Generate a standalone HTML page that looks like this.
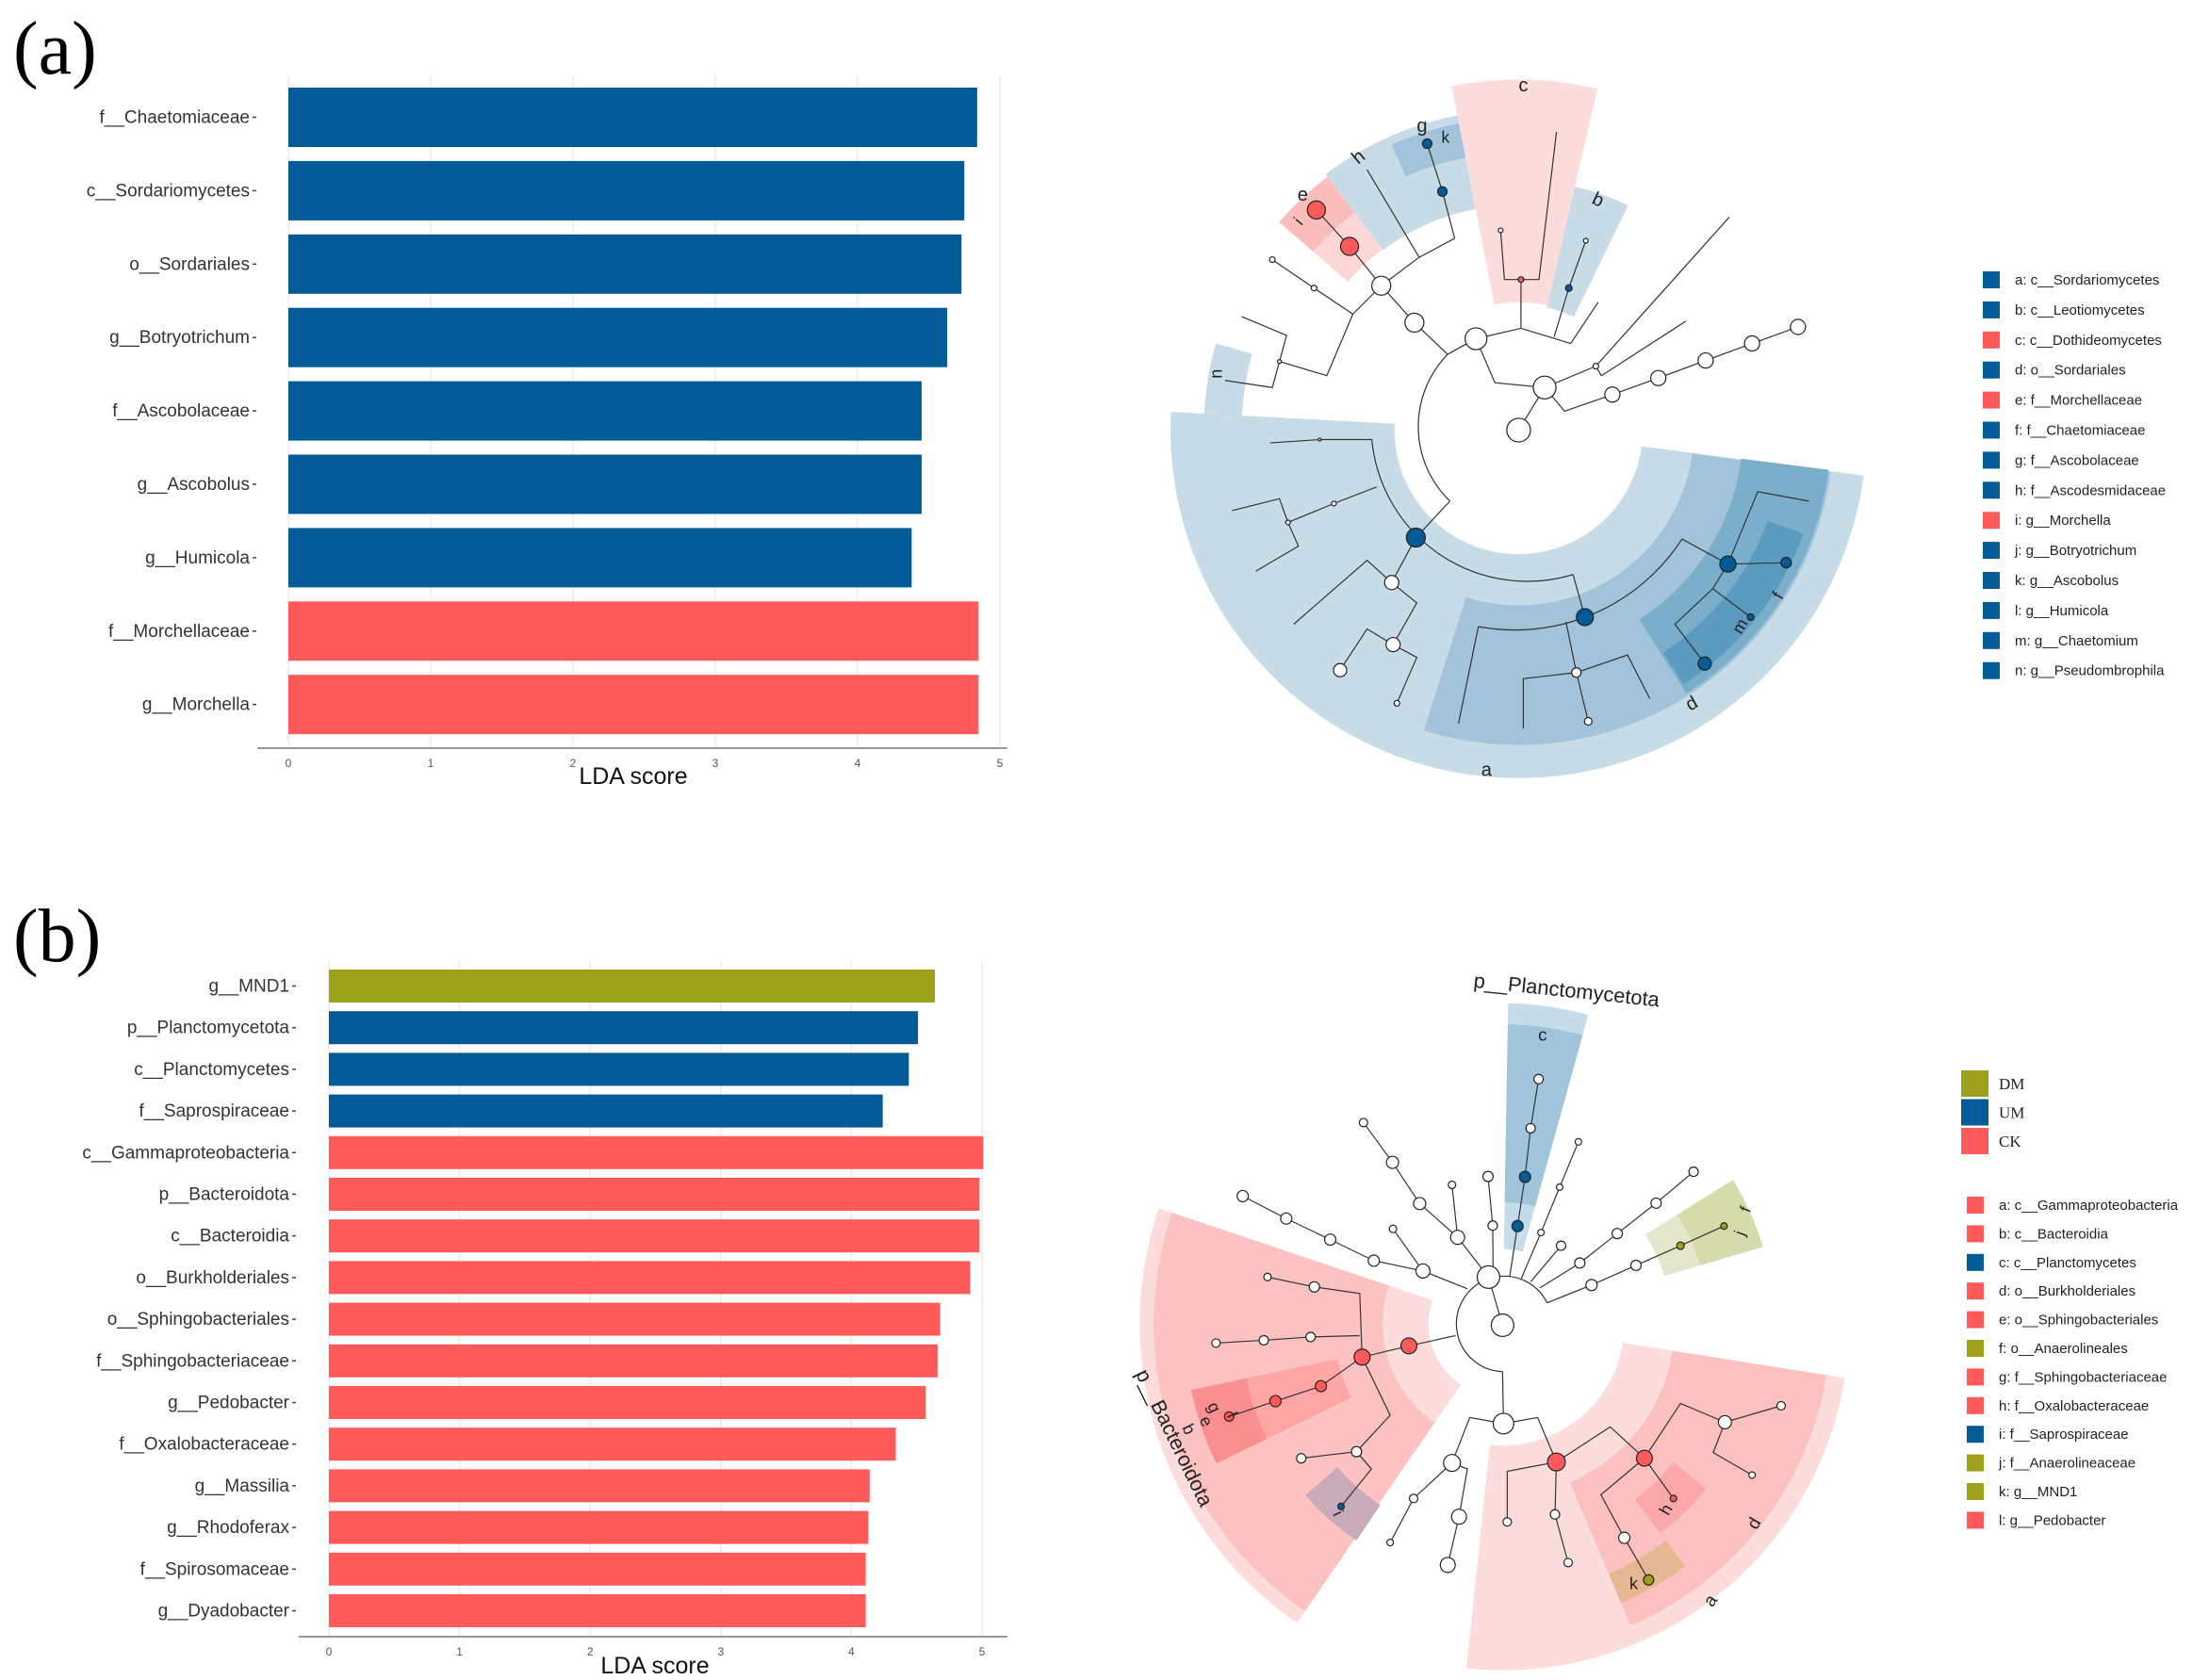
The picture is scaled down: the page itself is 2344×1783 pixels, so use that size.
<!DOCTYPE html>
<html><head><meta charset="utf-8">
<style>
html,body{margin:0;padding:0;background:#fff;}
svg{display:block;}
.lbl{font-family:"Liberation Sans Narrow","Liberation Sans",sans-serif;font-size:19px;fill:#333;}
.tick{font-family:"Liberation Sans",sans-serif;font-size:12px;fill:#555;}
.axt{font-family:"Liberation Sans",sans-serif;font-size:25px;fill:#111;}
.panel{font-family:"Liberation Serif",serif;font-size:80px;fill:#000;}
.leg{font-family:"Liberation Sans",sans-serif;font-size:15px;fill:#222;}
.legs{font-family:"Liberation Serif",serif;font-size:17px;fill:#222;}
.cl{font-family:"Liberation Sans",sans-serif;fill:#222;}
.edge{fill:none;stroke:#333;stroke-width:2.4;}
</style></head>
<body>
<svg id="root" width="2344" height="1783" viewBox="0 0 2344 1783" xmlns="http://www.w3.org/2000/svg">
<text class="panel" x="14" y="78">(a)</text>
<text class="panel" x="14" y="1020">(b)</text>
<g id="barA"></g>
<g id="barB"></g>

<!-- cladogram a -->
<g id="cladeA" transform="translate(1227,57) scale(0.5025)">
<g id="secA"></g>
<g>
<path class="edge" d="M615,635 A219,219 0 0 0 620,945"/>
<polyline class="edge" points="615,635 545,568 475,490 408,407 338,330"/>
<polyline class="edge" points="415,550 475,490 555,430 630,390 604,291 572,190"/>
<polyline class="edge" points="555,430 445,245"/>
<polyline class="edge" points="415,550 333,495 245,435"/>
<polyline class="edge" points="415,550 360,680 260,650 275,595 180,555"/>
<polyline class="edge" points="260,650 245,705 145,690"/>
<polyline class="edge" points="615,635 675,602 770,580 875,612"/>
<polyline class="edge" points="770,580 770,477 735,477 727,373"/>
<polyline class="edge" points="770,477 808,477 845,165"/>
<polyline class="edge" points="840,598 871,495 907,395"/>
<polyline class="edge" points="875,612 933,525"/>
<polyline class="edge" points="675,602 715,695 820,705 765,795"/>
<polyline class="edge" points="820,705 928,660 1210,345"/>
<polyline class="edge" points="928,660 940,680 1118,565"/>
<polyline class="edge" points="820,705 862,755 963,720 1060,685 1160,648 1258,612 1355,577"/>
<polyline class="edge" points="620,945 548,1022"/>
<path class="edge" d="M455,815 A330,330 0 0 0 880,1100"/>
<polyline class="edge" points="880,1100 905,1190"/>
<polyline class="edge" points="455,815 345,815 240,822"/>
<polyline class="edge" points="465,915 375,950 278,990 260,940 160,965"/>
<polyline class="edge" points="278,990 300,1040 210,1093"/>
<polyline class="edge" points="548,1022 497,1117 445,1070 290,1205"/>
<polyline class="edge" points="497,1117 550,1160 500,1248 445,1215 388,1302"/>
<polyline class="edge" points="500,1248 550,1275 508,1372"/>
<path class="edge" d="M1110,1025 A420,420 0 0 1 680,1210"/>
<polyline class="edge" points="680,1210 638,1415"/>
<polyline class="edge" points="865,1200 887,1307 775,1320 775,1425"/>
<polyline class="edge" points="887,1307 995,1270 1042,1362"/>
<polyline class="edge" points="887,1307 912,1410"/>
<polyline class="edge" points="1110,1025 1207,1078 1270,925 1378,945"/>
<polyline class="edge" points="1207,1078 1330,1075"/>
<polyline class="edge" points="1207,1078 1175,1130 1255,1190"/>
<polyline class="edge" points="1175,1130 1095,1205 1158,1288"/>
</g>
<g id="nodesA"></g>
<g>
<text class="cl" x="686" y="1525" style="font-size:40px">a</text>
<text class="cl" x="922" y="322" style="font-size:40px" transform="rotate(25 935 308)">b</text>
<text class="cl" x="765" y="80" style="font-size:40px">c</text>
<text class="cl" x="1118" y="1385" style="font-size:40px" transform="rotate(-30 1130 1370)">d</text>
<text class="cl" x="298" y="310" style="font-size:40px">e</text>
<text class="cl" x="1305" y="1152" style="font-size:36px" transform="rotate(-60 1315 1140)">f</text>
<text class="cl" x="550" y="165" style="font-size:40px">g</text>
<text class="cl" x="416" y="230" style="font-size:40px" transform="rotate(-40 428 218)">h</text>
<text class="cl" x="295" y="360" style="font-size:34px" transform="rotate(-50 305 350)">i</text>
<text class="cl" x="602" y="188" style="font-size:34px">k</text>
<text class="cl" x="1218" y="1222" style="font-size:36px" transform="rotate(-60 1232 1210)">m</text>
<text class="cl" x="114" y="682" style="font-size:36px" transform="rotate(-90 128 672)">n</text>
</g>
</g>

<!-- cladogram b -->
<g id="cladeB" transform="translate(1187,1025) scale(0.4968)">
<g id="secB"></g>
<g>
<path class="edge" d="M820,867 A102,102 0 1 1 915,720"/>
<polyline class="edge" points="790,665 724,580 643,508 585,420 523,335"/>
<polyline class="edge" points="745,690 650,652 545,630 452,585 358,540 265,492"/>
<polyline class="edge" points="650,652 586,562"/>
<polyline class="edge" points="724,580 712,468"/>
<polyline class="edge" points="800,664 799,555 789,450"/>
<polyline class="edge" points="835,665 852,556 868,451 880,347 897,242"/>
<polyline class="edge" points="860,668 902,570 942,473 982,376"/>
<polyline class="edge" points="880,675 945,598"/>
<polyline class="edge" points="900,688 985,635 1065,572 1148,507 1228,440"/>
<polyline class="edge" points="915,720 1010,682 1105,640 1200,598 1293,556"/>
<polyline class="edge" points="790,665 820,768"/>
<polyline class="edge" points="720,790 620,812 520,836"/>
<polyline class="edge" points="520,836 515,700 418,686 318,665"/>
<polyline class="edge" points="515,790 410,793 310,800 208,806"/>
<polyline class="edge" points="520,836 432,898 335,930 236,963"/>
<polyline class="edge" points="520,836 580,960 508,1038 390,1052"/>
<polyline class="edge" points="508,1038 540,1075 475,1155"/>
<polyline class="edge" points="820,867 822,978"/>
<polyline class="edge" points="822,978 750,965 712,1062 630,1138 580,1232"/>
<polyline class="edge" points="712,1062 745,1075 727,1177 703,1280"/>
<polyline class="edge" points="822,978 895,965 935,1060"/>
<polyline class="edge" points="935,1060 830,1080 830,1188"/>
<polyline class="edge" points="935,1060 932,1172 960,1275"/>
<polyline class="edge" points="935,1060 1050,985 1123,1052"/>
<polyline class="edge" points="1123,1052 1200,935 1295,975 1415,940"/>
<polyline class="edge" points="1295,975 1270,1040 1353,1088"/>
<polyline class="edge" points="1123,1052 1185,1138"/>
<polyline class="edge" points="1123,1052 1030,1130 1080,1222 1132,1312"/>
</g>
<g id="nodesB"></g>
<g>
<text class="cl" x="755" y="65" style="font-size:44px" transform="rotate(6 940 75)">p__Planctomycetota</text>
<text class="cl" x="30" y="880" style="font-size:44px" transform="rotate(64 40 880)">p__Bacteroidota</text>
<text class="cl" x="896" y="160" style="font-size:38px">c</text>
<text class="cl" x="1330" y="527" style="font-size:34px" transform="rotate(-70 1340 515)">f</text>
<text class="cl" x="1318" y="577" style="font-size:34px" transform="rotate(-70 1328 565)">j</text>
<text class="cl" x="1158" y="1172" style="font-size:36px" transform="rotate(-60 1170 1160)">h</text>
<text class="cl" x="1346" y="1202" style="font-size:38px" transform="rotate(-60 1358 1190)">d</text>
<text class="cl" x="1253" y="1367" style="font-size:38px" transform="rotate(-55 1265 1355)">a</text>
<text class="cl" x="1091" y="1332" style="font-size:36px">k</text>
<text class="cl" x="140" y="1002" style="font-size:36px" transform="rotate(64 150 990)">b</text>
<text class="cl" x="176" y="987" style="font-size:36px" transform="rotate(64 188 975)">e</text>
<text class="cl" x="193" y="957" style="font-size:36px" transform="rotate(64 205 945)">g</text>
<text class="cl" x="236" y="977" style="font-size:34px" transform="rotate(64 246 965)">l</text>
<text class="cl" x="462" y="1187" style="font-size:34px" transform="rotate(64 472 1175)">i</text>
</g>
</g>

<g id="legA"></g>
<g id="legB"></g>
</svg>

<script>
const NS='http://www.w3.org/2000/svg';
const BLUE='#005B96', RED='#FF5A5A', OLIVE='#9BA119';
// ---- Panel (a) data ----
const catsA=['f__Chaetomiaceae','c__Sordariomycetes','o__Sordariales','g__Botryotrichum','f__Ascobolaceae','g__Ascobolus','g__Humicola','f__Morchellaceae','g__Morchella'];
const valsA=[4.84,4.75,4.73,4.63,4.45,4.45,4.38,4.85,4.85];
const groupA=['UM','UM','UM','UM','UM','UM','UM','CK','CK'];
const ticksA=['0','1','2','3','4','5'];
// ---- Panel (b) data ----
const catsB=['g__MND1','p__Planctomycetota','c__Planctomycetes','f__Saprospiraceae','c__Gammaproteobacteria','p__Bacteroidota','c__Bacteroidia','o__Burkholderiales','o__Sphingobacteriales','f__Sphingobacteriaceae','g__Pedobacter','f__Oxalobacteraceae','g__Massilia','g__Rhodoferax','f__Spirosomaceae','g__Dyadobacter'];
const valsB=[4.64,4.51,4.44,4.24,5.01,4.98,4.98,4.91,4.68,4.66,4.57,4.34,4.14,4.13,4.11,4.11];
const groupB=['DM','UM','UM','UM','CK','CK','CK','CK','CK','CK','CK','CK','CK','CK','CK','CK'];
const ticksB=['0','1','2','3','4','5'];
const COL={UM:BLUE,CK:RED,DM:OLIVE};

function mk(tag,attrs,parent){const e=document.createElementNS(NS,tag);for(const k in attrs)e.setAttribute(k,attrs[k]);parent.appendChild(e);return e;}

function barChart(g,cats,vals,groups,ticks,cfg){
  const xs=v=>cfg.x0+v*(cfg.x5-cfg.x0)/5;
  ticks.forEach((t,i)=>{
    const gl=mk('line',{x1:xs(+t),x2:xs(+t),y1:cfg.gridTop,y2:cfg.axisY,stroke:'#ebebeb','stroke-width':1.5},g);
    
    
    const tl=mk('text',{x:xs(+t),y:cfg.axisY+20,'text-anchor':'middle',class:'tick'},g);
    tl.textContent=t;
    
    
  });
  cats.forEach((c,i)=>{
    const y=cfg.top+i*cfg.pitch;
    const r=mk('rect',{x:xs(0),y:y,width:xs(vals[i])-xs(0),height:cfg.h,fill:COL[groups[i]]},g);
    
    
    const t=mk('text',{x:cfg.labelX,y:y+cfg.h/2+6,'text-anchor':'end',class:'lbl'},g);
    t.textContent=c;
    
    
    const tk=mk('line',{x1:cfg.labelX+3,x2:cfg.labelX+7,y1:y+cfg.h/2,y2:y+cfg.h/2,stroke:'#444','stroke-width':1.5},g);
    
    
  });
  const ax=mk('line',{x1:cfg.axL,x2:cfg.axR,y1:cfg.axisY,y2:cfg.axisY,stroke:'#999','stroke-width':2},g);
  
  
  const at=mk('text',{x:cfg.titleX,y:cfg.titleY,'text-anchor':'middle',class:'axt'},g);
  at.textContent='LDA score';
  
  
}
barChart(document.getElementById('barA'),catsA,valsA,groupA,ticksA,{x0:306,x5:1061,top:93,pitch:77.9,h:63,gridTop:79,axisY:794,labelX:265,axL:273,axR:1069,titleX:672,titleY:832});
barChart(document.getElementById('barB'),catsB,valsB,groupB,ticksB,{x0:349,x5:1042,top:1029,pitch:44.2,h:35,gridTop:1020,axisY:1737,labelX:307,axL:317,axR:1069,titleX:695,titleY:1776});

// ---- cladogram sectors ----
function sector(g,cx,cy,r0,r1,a0,a1,fill,name){
  const rad=a=>a*Math.PI/180;
  const p=(r,a)=>[cx+r*Math.cos(rad(a)),cy+r*Math.sin(rad(a))];
  const large=(a1-a0)>180?1:0;
  const [x1,y1]=p(r1,a0),[x2,y2]=p(r1,a1),[x3,y3]=p(r0,a1),[x4,y4]=p(r0,a0);
  const d=`M${x1},${y1} A${r1},${r1} 0 ${large} 1 ${x2},${y2} L${x3},${y3} A${r0},${r0} 0 ${large} 0 ${x4},${y4} Z`;
  const e=mk('path',{d:d,fill:fill},g);
  
  
}
const sA=document.getElementById('secA');
sector(sA,765,795,262,735,7.5,183,'#c8dce8','clade-a-highlight');
sector(sA,765,795,370,665,7.7,107.5,'#a2c3da','clade-d-highlight');
sector(sA,765,795,474,660,7.3,57.5,'#7aaecb','clade-f-highlight');
sector(sA,765,795,560,640,20,57,'#5b9bc0','clade-l-highlight');
sector(sA,765,795,585,665,183,196,'#c8dce8','clade-n-highlight');
sector(sA,765,795,478,670,221,233,'#fdd6d6','clade-e-highlight');
sector(sA,765,795,575,670,221,233,'#fbbcbc','clade-i-highlight');
sector(sA,765,795,476,677,233,259,'#c8dce8','clade-h-highlight');
sector(sA,765,795,586,660,246,259,'#a2c3da','clade-g-highlight');
sector(sA,765,795,270,740,259,283,'#fddcdc','clade-c-highlight');
sector(sA,765,795,266,528,283,296,'#c8dce8','clade-b-highlight');

const sB=document.getElementById('secB');
sector(sB,820,765,158,775,124.5,198.6,'#fddcdc','clade-bacteroidota-highlight');
sector(sB,820,765,256,745,124.5,198.6,'#fcc2c2','clade-b-highlight');
sector(sB,820,765,360,680,154,168,'#fca6a6','clade-g-highlight');
sector(sB,820,765,560,680,154,168,'#fb8f8f','clade-l-highlight');
sector(sB,820,765,467,558,124,139,'#c9aab9','clade-i-highlight');
sector(sB,820,765,260,740,9,96,'#fddcdc','clade-a-highlight');
sector(sB,820,765,368,700,9,67,'#fcc0c0','clade-d-highlight');
sector(sB,820,765,470,560,39,53,'#fca8a8','clade-h-highlight');
sector(sB,820,765,580,648,53,67,'#e5b792','clade-k-highlight');
sector(sB,820,765,160,685,271,285.5,'#c6dce8','clade-c-highlight');
sector(sB,820,765,260,640,271,285.5,'#a0c4da','clade-c-core');
sector(sB,820,765,360,580,328,343.5,'#e4e7cb','clade-f-highlight');
sector(sB,820,765,440,580,328,343.5,'#d5dbab','clade-j-highlight');

// ---- nodes ----
function nodes(g,list){
  list.forEach(n=>{
    const c=mk('circle',{cx:n[0],cy:n[1],r:n[2],fill:n[3],stroke:'#222','stroke-width':2.4},g);
    
    
  });
}
const W='#fff';
nodes(document.getElementById('nodesA'),[
[765,795,25,W],[820,705,24,W],[675,602,23,W],[545,568,20,W],[475,490,20,W],
[338,330,19,RED],[408,407,19,RED],[770,477,6,RED],
[572,190,10,BLUE],[604,291,10,BLUE],[871,495,7,BLUE],[548,1022,20,BLUE],[905,1190,18,BLUE],[1207,1078,17,BLUE],[1330,1075,11,BLUE],[1255,1190,7,BLUE],[1158,1288,14,BLUE],
[727,373,5,W],[907,395,5,W],[245,435,6,W],[333,495,6,W],[260,650,4,W],[928,660,6,W],[963,720,16,W],[1060,685,16,W],[1160,648,16,W],[1258,612,16,W],[1355,577,16,W],
[497,1117,15,W],[500,1248,15,W],[388,1302,14,W],[887,1307,10,W],[912,1410,8,W],[508,1372,6,W],[375,950,5,W],[278,990,5,W],[345,815,3,W]
]);
nodes(document.getElementById('nodesB'),[
[790,665,24,W],[820,768,24,W],[822,978,22,W],[712,1062,18,W],[727,1177,16,W],[703,1280,16,W],[724,580,15,W],[650,652,15,W],[643,508,13,W],[585,420,13,W],[545,630,12,W],[452,585,12,W],[358,540,12,W],[265,492,12,W],[523,335,9,W],[586,562,8,W],[712,468,8,W],[789,450,11,W],[799,555,10,W],[902,570,7,W],[942,473,7,W],[982,376,7,W],[945,598,10,W],[985,635,11,W],[1010,682,12,W],[1105,640,11,W],[1065,572,11,W],[1148,507,11,W],[1228,440,10,W],[880,347,10,W],[897,242,10,W],[418,686,11,W],[318,665,8,W],[410,793,10,W],[310,800,10,W],[208,806,9,W],[508,1038,11,W],[390,1052,10,W],[630,1138,9,W],[580,1232,7,W],[932,1172,10,W],[960,1275,9,W],[830,1188,9,W],[1080,1222,12,W],[1295,975,14,W],[1415,940,9,W],[1353,1088,7,W],
[620,812,17,RED],[520,836,17,RED],[432,898,12,RED],[335,930,12,RED],[236,963,10,RED],[935,1060,19,RED],[1123,1052,17,RED],[1185,1138,7,RED],
[868,451,12,BLUE],[852,556,12,BLUE],[475,1155,7,BLUE],
[1200,598,8,OLIVE],[1293,556,7,OLIVE],[1132,1312,11,OLIVE]
]);

// ---- legends ----
const legAText=['a: c__Sordariomycetes','b: c__Leotiomycetes','c: c__Dothideomycetes','d: o__Sordariales','e: f__Morchellaceae','f: f__Chaetomiaceae','g: f__Ascobolaceae','h: f__Ascodesmidaceae','i: g__Morchella','j: g__Botryotrichum','k: g__Ascobolus','l: g__Humicola','m: g__Chaetomium','n: g__Pseudombrophila'];
const legAGroup=['UM','UM','CK','UM','CK','UM','UM','UM','CK','UM','UM','UM','UM','UM'];
const legBText=['a: c__Gammaproteobacteria','b: c__Bacteroidia','c: c__Planctomycetes','d: o__Burkholderiales','e: o__Sphingobacteriales','f: o__Anaerolineales','g: f__Sphingobacteriaceae','h: f__Oxalobacteraceae','i: f__Saprospiraceae','j: f__Anaerolineaceae','k: g__MND1','l: g__Pedobacter'];
const legBGroup=['CK','CK','UM','CK','CK','DM','CK','CK','UM','DM','DM','CK'];
const groupNames=['DM','UM','CK'];
function legend(g,texts,groups,x,y0,pitch,tx){
  texts.forEach((t,i)=>{
    const y=y0+i*pitch;
    const r=mk('rect',{x:x,y:y-9,width:18,height:18,fill:COL[groups[i]]},g);
    
    
    const te=mk('text',{x:tx,y:y+5,class:'leg'},g);
    te.textContent=t;
    
    
  });
}
legend(document.getElementById('legA'),legAText,legAGroup,2104,297,31.9,2138);
const lb=document.getElementById('legB');
legend(lb,legBText,legBGroup,2087,1279,30.4,2121);
groupNames.forEach((n,i)=>{
  const y=1136+i*30.5;
  const r=mk('rect',{x:2081,y:y,width:29,height:28,fill:COL[n]},lb);
  
  
  const t=mk('text',{x:2121,y:y+20,class:'legs'},lb);
  t.textContent=n;
  
  
});
</script>
</body></html>
